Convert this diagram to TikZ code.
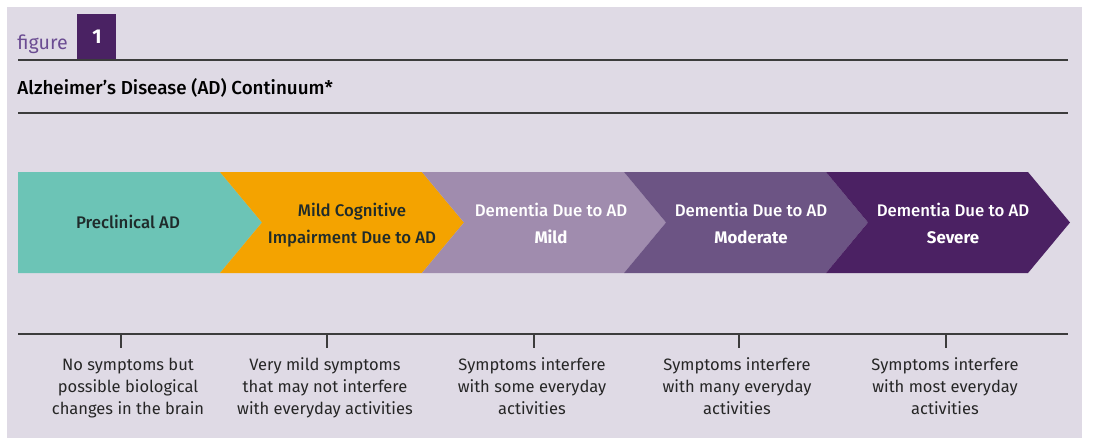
\documentclass[tikz,border=0pt]{standalone}
\usepackage{fontspec}
\setmainfont{Fira Sans}
\newfontfamily\stagefont{Fira Sans Medium}
\newcommand{\sevword}[1]{{\rmfamily\bfseries #1}}
\usetikzlibrary{positioning}
\definecolor{panel}{HTML}{DFDAE5}
\definecolor{rulegray}{HTML}{3C3C3C}
\definecolor{inktext}{HTML}{262626}
\definecolor{stageink}{HTML}{1F2B2B}
\definecolor{figpurple}{HTML}{6B4C92}
\definecolor{boxpurple}{HTML}{4A2263}
\definecolor{preclincol}{HTML}{6CC4B6}
\definecolor{mcicol}{HTML}{F4A300}
\definecolor{mildcol}{HTML}{A08CAE}
\definecolor{modcol}{HTML}{6C5484}
\definecolor{sevcol}{HTML}{4B2163}
\tikzstyle{hrule} = [draw=rulegray, line width=1.1pt]
\tikzstyle{tickmark} = [draw=rulegray, line width=0.8pt]
\tikzstyle{stage} = [align=center, anchor=base, font=\stagefont\fontsize{8.4}{13.5}\selectfont]
\tikzstyle{stagedark} = [stage, text=stageink]
\tikzstyle{stagelight} = [stage, text=white]
\tikzstyle{desc} = [align=center, anchor=base, text=inktext, font=\fontsize{8.25}{11}\selectfont]

\begin{document}
\begin{tikzpicture}[x=0.5pt,y=-0.5pt]
    \useasboundingbox (0,0) rectangle (1100,441);
    \fill[panel] (7,7) rectangle (1082,438);

    \node[anchor=base west, inner sep=0, text=figpurple, font=\fontsize{9.8}{11}\selectfont] (figlabel) at (17,49.5) {figure};
    \node[anchor=south west, inner sep=0, fill=boxpurple, text=white, minimum width=19.5pt, minimum height=23pt, font=\bfseries\fontsize{10}{12}\selectfont] (fignum) at (77,60) {1};
    \draw[hrule] (18,60) -- (1068,60);
    \node[anchor=base west, inner sep=0, text=black, font=\stagefont\fontsize{9.4}{11}\selectfont] (title) at (17,94) {Alzheimer’s Disease (AD) Continuum*};
    \draw[hrule] (18,113) -- (1068,113);

    \foreach \col/\xa/\cut in {preclincol/18/0, mcicol/220/42, mildcol/422/42, modcol/624/42, sevcol/826/42}
        \fill[\col] (\xa,172) -- ++(202,0) -- ++(42,50.5) -- ++(-42,50.5) -- ++(-202,0) -- ++(\cut,-50.5) -- cycle;

    % base anchor sits on the last line
    \node[stagedark] (preclinical) at (128,228) {Preclinical AD};
    \node[stagedark] (mci) at (352,243) {Mild Cognitive\\Impairment Due to AD};
    \node[stagelight] (mild) at (551,243) {Dementia Due to AD\\\sevword{Mild}};
    \node[stagelight] (moderate) at (751,243) {Dementia Due to AD\\\sevword{Moderate}};
    \node[stagelight] (severe) at (953,243) {Dementia Due to AD\\\sevword{Severe}};

    \draw[hrule] (18,334) -- (1068,334);
    \foreach \x in {121,327,534,739,946}
        \draw[tickmark] (\x,334) -- (\x,348);

    \node[desc] (nosymp) at (128,414) {No symptoms but\\possible biological\\changes in the brain};
    \node[desc] (verymild) at (325,414) {Very mild symptoms\\that may not interfere\\with everyday activities};
    \node[desc] (some) at (532,414) {Symptoms interfere\\with some everyday\\activities};
    \node[desc] (many) at (737,414) {Symptoms interfere\\with many everyday\\activities};
    \node[desc] (most) at (945,414) {Symptoms interfere\\with most everyday\\activities};
\end{tikzpicture}
\end{document}
